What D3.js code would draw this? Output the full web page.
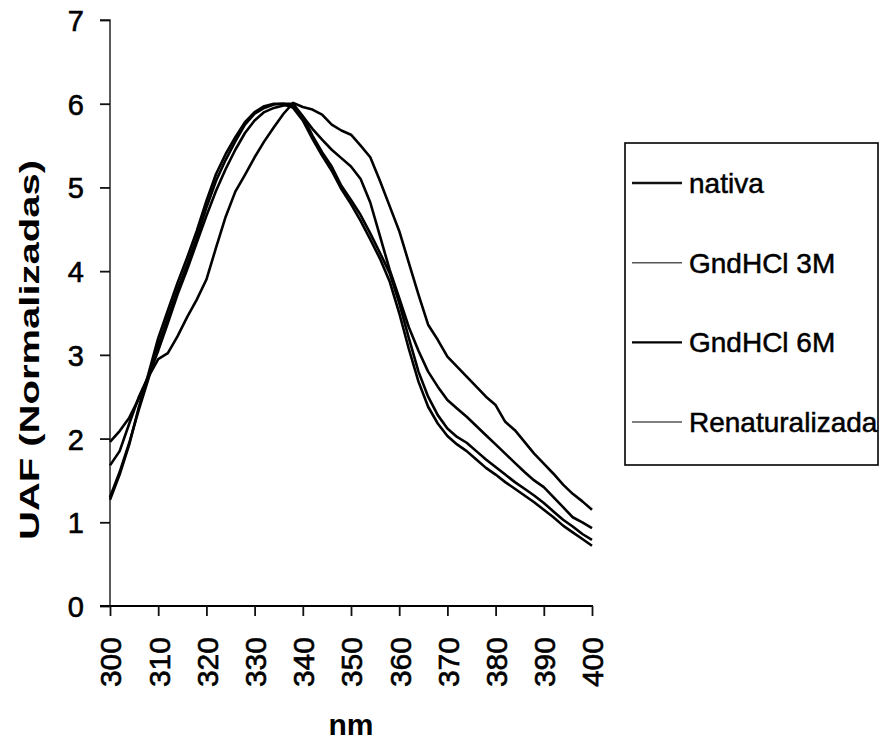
<!DOCTYPE html>
<html>
<head>
<meta charset="utf-8">
<script src="https://cdn.jsdelivr.net/npm/d3@7"></script>
<style>
  html, body { margin: 0; padding: 0; background: #fff; }
  svg { display: block; font-family: "Liberation Sans", Arial, sans-serif; }
</style>
</head>
<body>
<svg id="chart" width="882" height="743"></svg>
<script>
// ---- data ----
const wavelengths = [300,302,304,306,308,310,312,314,316,318,320,322,324,326,328,330,332,334,336,338,340,342,344,346,348,350,352,354,356,358,360,362,364,366,368,370,372,374,376,378,380,382,384,386,388,390,392,394,396,398,400];

const nativa = [1.30,1.60,1.95,2.35,2.72,3.12,3.45,3.78,4.08,4.40,4.76,5.08,5.33,5.55,5.75,5.88,5.95,5.99,6.00,6.00,5.85,5.62,5.42,5.25,5.02,4.85,4.67,4.45,4.22,3.98,3.62,3.20,2.80,2.50,2.28,2.12,2.02,1.95,1.85,1.75,1.66,1.57,1.48,1.40,1.32,1.23,1.13,1.03,0.95,0.86,0.79];

const gnd3M = [1.68,1.85,2.18,2.50,2.75,3.05,3.38,3.72,4.02,4.34,4.66,4.96,5.22,5.45,5.65,5.80,5.90,5.95,5.98,5.98,5.85,5.70,5.57,5.45,5.35,5.25,5.10,4.82,4.42,4.02,3.68,3.33,3.05,2.80,2.62,2.46,2.36,2.26,2.15,2.04,1.93,1.82,1.71,1.60,1.50,1.42,1.30,1.18,1.06,1.00,0.93];

const gnd6M = [1.96,2.09,2.25,2.48,2.74,2.95,3.02,3.22,3.45,3.66,3.90,4.28,4.65,4.95,5.15,5.36,5.55,5.72,5.88,6.01,5.96,5.93,5.87,5.75,5.68,5.63,5.50,5.36,5.08,4.78,4.48,4.10,3.72,3.36,3.18,2.98,2.86,2.74,2.62,2.50,2.40,2.20,2.10,1.96,1.82,1.70,1.58,1.45,1.34,1.25,1.15];

const renaturalizada = [1.27,1.57,1.93,2.38,2.78,3.20,3.53,3.86,4.16,4.48,4.84,5.16,5.40,5.60,5.78,5.90,5.97,6.00,6.00,5.95,5.80,5.58,5.38,5.20,4.98,4.80,4.60,4.38,4.15,3.88,3.50,3.07,2.68,2.38,2.18,2.03,1.93,1.85,1.75,1.65,1.57,1.48,1.40,1.32,1.24,1.15,1.06,0.96,0.88,0.80,0.72];

const seriesNames = ["nativa", "GndHCl 3M", "GndHCl 6M", "Renaturalizada"];
const seriesValues = [nativa, gnd3M, gnd6M, renaturalizada];
const xTicks = [300,310,320,330,340,350,360,370,380,390,400];
const yTicks = [0,1,2,3,4,5,6,7];
const xTitle = "nm";
const yTitle = "UAF (Normalizadas)";

// ---- styles ----
const legendStroke = [
  {color: "#111", width: 2.6},
  {color: "#555", width: 1.5},
  {color: "#000", width: 2.2},
  {color: "#555", width: 1.5}
];
const fontFam = "'Liberation Sans', Arial, sans-serif";

const svg = d3.select("#chart");
const x = d3.scaleLinear().domain([300, 400]).range([110, 592]);
const y = d3.scaleLinear().domain([0, 7]).range([606, 20]);

// y axis
const yAxis = d3.axisLeft(y).tickValues(yTicks).tickSize(10).tickFormat(d3.format("d"));
const gy = svg.append("g").attr("transform", "translate(110,0)").call(yAxis);
gy.select(".domain").attr("stroke", "#333").attr("stroke-width", 1.6).attr("d", "M-10,20H0V606");
gy.selectAll(".tick line").attr("stroke", "#111").attr("stroke-width", 1.8);
gy.selectAll(".tick text")
  .attr("x", -26).attr("dy", "0.36em")
  .style("font-size", "29px").attr("fill", "#000")
  .attr("stroke", "#000").attr("stroke-width", 0.6)
  .style("font-family", fontFam);

// x axis
const xAxis = d3.axisBottom(x).tickValues(xTicks).tickSize(10).tickFormat(d3.format("d"));
const gx = svg.append("g").attr("transform", "translate(0,606)").call(xAxis);
gx.select(".domain").attr("stroke", "#000").attr("stroke-width", 2).attr("d", "M100,0H593");
gx.selectAll(".tick line").attr("stroke", "#111").attr("stroke-width", 1.8);
gx.selectAll(".tick text")
  .attr("transform", "rotate(-90)")
  .attr("x", -31).attr("y", 0).attr("dy", "0.36em")
  .attr("text-anchor", "end")
  .style("font-size", "30px").attr("fill", "#000")
  .attr("stroke", "#000").attr("stroke-width", 0.6)
  .style("font-family", fontFam);

// lines
const line = d3.line()
  .x((d, i) => x(wavelengths[i]))
  .y(d => y(d))
  .curve(d3.curveLinear);

svg.append("g").selectAll("path.series")
  .data(seriesValues)
  .join("path")
  .attr("class", "series")
  .attr("d", d => line(d))
  .attr("fill", "none")
  .attr("stroke", "#000")
  .attr("stroke-width", 2.6)
  .attr("stroke-linejoin", "round");

// axis titles
svg.append("text")
  .attr("x", 351).attr("y", 735)
  .attr("text-anchor", "middle")
  .style("font-size", "30px").style("font-weight", "bold")
  .style("font-family", fontFam)
  .text(xTitle);

svg.append("text")
  .attr("transform", "translate(39,350) rotate(-90)")
  .attr("text-anchor", "middle")
  .attr("textLength", 380)
  .attr("lengthAdjust", "spacingAndGlyphs")
  .style("font-size", "28px").style("font-weight", "bold")
  .style("font-family", fontFam)
  .text(yTitle);

// legend
const legend = svg.append("g");
legend.append("rect")
  .attr("x", 625).attr("y", 143).attr("width", 253).attr("height", 322)
  .attr("fill", "#fff").attr("stroke", "#000").attr("stroke-width", 1.6);

const entries = legend.selectAll("g.entry")
  .data(seriesNames)
  .join("g")
  .attr("class", "entry")
  .attr("transform", (d, i) => `translate(0,${193 + i * 79.7})`);

entries.append("line")
  .attr("x1", 632).attr("x2", 682)
  .attr("y1", -10).attr("y2", -10)
  .attr("stroke", (d, i) => legendStroke[i].color)
  .attr("stroke-width", (d, i) => legendStroke[i].width);

entries.append("text")
  .attr("x", 689).attr("y", 0)
  .style("font-size", "28px")
  .style("font-family", fontFam)
  .attr("fill", "#000")
  .attr("stroke", "#000").attr("stroke-width", 0.5)
  .text(d => d);
</script>
</body>
</html>
